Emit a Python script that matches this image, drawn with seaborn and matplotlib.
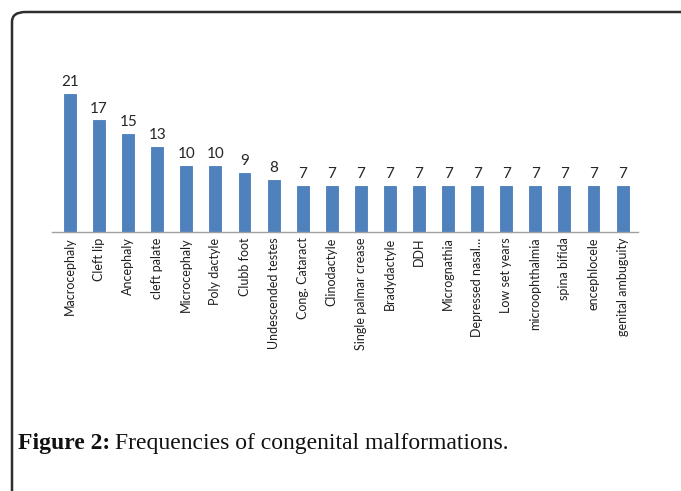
import matplotlib
matplotlib.use("Agg")
import matplotlib.pyplot as plt
import seaborn as sns
import pandas as pd
from matplotlib.patches import FancyBboxPatch

malformations = ["Macrocephaly", "Cleft lip", "Ancephaly", "cleft palate", "Microcephaly",
                 "Poly dactyle", "Clubb foot", "Undescended testes", "Cong. Cataract",
                 "Clinodactyle", "Single palmar crease", "Bradydactyle", "DDH", "Micrognathia",
                 "Depressed nasal…", "Low set years", "microophthalmia", "spina bifida",
                 "encephlocele", "genital ambuguity"]
frequency = [21, 17, 15, 13, 10, 10, 9, 8, 7, 7, 7, 7, 7, 7, 7, 7, 7, 7, 7, 7]

df = pd.DataFrame({"malformation": malformations, "frequency": frequency})

sns.set_style("white")
plt.rcParams['font.family'] = ['Lato', 'DejaVu Sans']

fig = plt.figure(figsize=(6.81, 4.91), dpi=100)
ax = fig.add_axes([52 / 681, 1 - 232 / 491, 586 / 681, 164 / 491])
sns.barplot(data=df, x="malformation", y="frequency", color="#4F81BD",
            width=0.41, saturation=1, edgecolor="#4A7DBA", linewidth=0.6, ax=ax)
ax.set_xlim(-0.62, 19.53)
ax.set_ylim(0, 25)
for i, v in enumerate(frequency):
    ax.text(i, v + 0.75, str(v), ha="center", va="bottom", fontsize=11, color="#262626")
ax.set_xlabel("")
ax.set_ylabel("")
ax.set_yticks([])
ax.tick_params(axis="x", length=0, pad=4, labelsize=9, labelcolor="#1f1f1f")
ax.set_xticks(range(len(malformations)))
ax.set_xticklabels(malformations, rotation=90)
for s in ["top", "right", "left"]:
    ax.spines[s].set_visible(False)
ax.spines["bottom"].set_color("#A0A0A0")
ax.spines["bottom"].set_linewidth(1)
ax.patch.set_alpha(0)

# frame around the figure (cropped box)
frame = FancyBboxPatch((12 / 681, -0.2), 1.2, 0.2 + 1 - 12 / 491,
                       boxstyle="round,pad=0,rounding_size=0.02",
                       transform=fig.transFigure, fill=False,
                       edgecolor="#2E2E2E", linewidth=1.8, clip_on=False)
fig.patches.append(frame)

# caption
t1 = fig.text(18 / 681, 1 - 443 / 491, "Figure 2:", fontsize=17, fontweight="bold",
              family="Liberation Serif", va="center", ha="left", color="#111111")
fig.canvas.draw()
bb = t1.get_window_extent()
fig.text(bb.x1 / 681 + 5 / 681, 1 - 443 / 491, "Frequencies of congenital malformations.",
         fontsize=17, family="Liberation Serif", va="center", ha="left", color="#111111")

fig.savefig("out.png", dpi=100)
